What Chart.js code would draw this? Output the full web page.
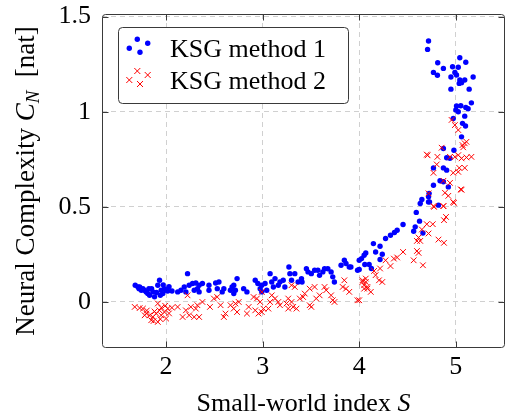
<!DOCTYPE html>
<html>
<head>
<meta charset="utf-8">
<script src="https://cdn.jsdelivr.net/npm/chart.js@4.4.0/dist/chart.umd.min.js"></script>
<style>
  html, body { margin: 0; padding: 0; background: #fff; }
  #wrap { width: 510px; height: 420px; }
</style>
</head>
<body>
<div id="wrap"><canvas id="complexityChart" width="510" height="420"></canvas></div>
<script>
// KSG method 1: small-world index S and neural complexity C_N
const method1S = [
  1.68, 1.709, 1.743, 1.726, 1.76, 1.794, 1.829, 1.822, 1.863, 1.88, 1.914, 1.932, 1.949, 1.966, 1.983,
  2.0, 2.017, 2.061, 2.12, 2.154, 2.188, 2.205, 2.222, 2.239, 2.274, 2.308, 2.291, 2.325, 2.342, 2.376,
  2.342, 2.444, 2.444, 2.513, 2.547, 2.53, 2.581, 2.598, 2.666, 2.683, 2.701, 2.718, 2.735, 2.701, 2.803,
  2.837, 2.923, 2.95, 2.974, 2.991, 2.991, 3.025, 3.042, 3.077, 3.094, 3.111, 3.128, 3.162, 3.179, 3.213,
  3.23, 3.272, 3.282, 3.299, 3.333, 3.367, 3.402, 3.408, 3.453, 3.47, 3.504, 3.538, 3.572, 3.589, 3.623,
  3.641, 3.675, 3.709, 3.726, 3.743, 3.812, 3.846, 3.863, 3.897, 3.914, 3.983,
  4.0, 4.024, 4.051, 4.068, 4.147, 4.17, 4.216, 4.239, 4.216, 4.273, 4.324, 4.365, 4.393, 4.454, 4.564,
  4.58, 4.591, 4.625, 4.632, 4.66, 4.058, 4.103, 4.126, 4.0,
  4.718, 4.708, 4.813, 4.872, 4.769, 4.81, 4.967, 5.026, 5.042, 5.104, 4.991, 5.008, 4.95, 5.042, 5.06,
  5.093, 5.036, 5.18, 4.95, 5.139, 5.008, 5.052, 5.104, 5.128, 5.162, 5.001, 5.026, 5.093, 4.974, 5.07,
  5.101, 4.981, 4.872, 4.906, 4.94, 4.769, 4.872, 4.906, 4.769, 4.923, 4.872, 4.724, 4.718, 4.649, 4.718,
  4.821, 5.06, 4.837, 4.728,
  1.72, 1.78, 1.85, 1.9, 1.97, 2.03, 1.81, 1.94
];
const method1C = [
  0.088, 0.079, 0.062, 0.079, 0.07, 0.053, 0.035, 0.07, 0.053, 0.027, 0.088, 0.114, 0.062, 0.044, 0.07,
  0.062, 0.058, 0.058, 0.053, 0.062, 0.079, 0.053, 0.149, 0.088, 0.097, 0.1, 0.062, 0.07, 0.088, 0.097,
  0.053, 0.088, 0.062, 0.1, 0.105, 0.07, 0.053, 0.07, 0.062, 0.079, 0.088, 0.062, 0.123, 0.044, 0.07,
  0.053, 0.114, 0.097, 0.07, 0.088, 0.053, 0.097, 0.062, 0.149, 0.105, 0.079, 0.123, 0.088, 0.105, 0.114,
  0.079, 0.184, 0.149, 0.114, 0.149, 0.105, 0.123, 0.105, 0.175, 0.158, 0.149, 0.167, 0.167, 0.14, 0.158,
  0.175, 0.175, 0.158, 0.132, 0.105, 0.193, 0.219, 0.202, 0.184, 0.184, 0.167,
  0.219, 0.228, 0.246, 0.258, 0.307, 0.263, 0.293, 0.251, 0.223, 0.334, 0.351, 0.365, 0.377, 0.407, 0.372,
  0.395, 0.471, 0.425, 0.518, 0.363, 0.197, 0.197, 0.176, 0.171,
  1.372, 1.328, 1.258, 1.228, 1.207, 1.192, 1.237, 1.234, 1.284, 1.26, 1.207, 1.193, 1.183, 1.167, 1.153,
  1.167, 1.149, 1.183, 1.119, 1.119, 1.03, 1.032, 1.023, 1.016, 1.047, 1.009, 1.0, 0.977, 0.965, 0.939,
  0.925, 0.798, 0.807, 0.758, 0.755, 0.705, 0.705, 0.693, 0.614, 0.605, 0.632, 0.571, 0.553, 0.539, 0.526,
  0.509, 0.868, 0.637, 0.526,
  0.07, 0.06, 0.07, 0.05, 0.09, 0.08, 0.045, 0.035
];

// KSG method 2
const method2S = [
  1.675, 1.726, 1.76, 1.795, 1.829, 1.863, 1.897, 1.914, 1.931, 1.949, 1.983, 2.0, 1.914, 1.846, 1.778,
  2.017, 2.119, 2.171, 2.205, 2.222, 2.256, 2.239, 2.308, 2.291, 2.342, 2.376, 2.324, 2.454, 2.495, 2.529,
  2.564, 2.598, 2.615, 2.667, 2.7, 2.718, 2.752, 2.735, 2.837, 2.855, 1.8, 1.88, 1.95, 1.99, 2.03, 1.87,
  1.94, 2.06,
  2.906, 2.94, 2.974, 2.991, 2.923, 2.957, 2.991, 3.008, 3.059, 3.077, 3.094, 3.128, 3.162, 3.179, 3.247,
  3.265, 3.265, 3.299, 3.316, 3.35, 3.299, 3.333, 3.385, 3.419, 3.436, 3.487, 3.487, 3.504, 3.538, 3.555,
  3.59, 3.641, 3.658, 3.709, 3.726, 3.744, 3.846, 3.829, 3.863, 3.897, 3.982, 4.034, 4.068, 4.051, 4.085,
  4.12,
  4.775, 4.872, 4.981, 4.899, 4.878, 4.7, 4.762, 4.649, 4.718, 4.615, 4.598, 4.632, 4.821, 4.878, 4.598,
  4.615, 4.564, 4.66, 4.454, 4.393, 4.359, 4.273, 4.324, 4.216, 4.154, 4.17, 4.205, 4.239, 4.034, 4.068,
  4.085, 4.051, 4.0,
  4.957, 4.991, 5.026, 5.077, 5.093, 5.111, 5.07, 4.854, 4.708, 4.81, 4.94, 4.991, 5.026, 5.06, 5.111,
  5.162, 4.803, 5.036, 5.093, 4.769, 4.974, 5.026, 4.872, 4.94, 5.052, 4.718, 4.888, 4.923, 4.974, 4.769,
  4.872, 4.7, 5.06
];
const method2C = [
  -0.026, -0.032, -0.035, -0.061, -0.07, -0.079, -0.061, -0.008, -0.044, -0.07, -0.053, -0.087, -0.105, -0.096, -0.07,
  -0.035, -0.026, -0.079, -0.044, 0.035, -0.026, -0.07, -0.035, -0.079, -0.079, 0.0, -0.017, -0.026, 0.018, 0.026,
  -0.017, -0.079, -0.061, -0.017, -0.035, -0.008, 0.0, -0.053, -0.061, -0.026, -0.045, -0.05, -0.03, -0.02, -0.06, -0.1,
  -0.09, -0.03,
  0.026, 0.018, 0.0, 0.053, -0.044, -0.061, -0.053, -0.035, -0.035, 0.0, 0.035, 0.018, 0.0, -0.017, -0.008,
  0.018, -0.035, 0.0, -0.026, -0.035, 0.088, 0.079, 0.018, 0.026, 0.044, 0.07, -0.017, -0.026, 0.079, 0.018,
  0.035, 0.079, 0.062, 0.035, 0.009, 0.0, 0.114, 0.079, 0.07, 0.053, 0.009, 0.114, 0.123, 0.088, 0.07,
  0.053,
  0.5, 0.504, 0.521, 0.447, 0.43, 0.409, 0.409, 0.381, 0.36, 0.339, 0.321, 0.321, 0.328, 0.311, 0.268,
  0.258, 0.219, 0.193, 0.263, 0.234, 0.228, 0.219, 0.189, 0.176, 0.163, 0.141, 0.114, 0.105, 0.105, 0.105,
  0.079, 0.07, 0.009,
  0.957, 0.93, 0.904, 0.813, 0.834, 0.842, 0.825, 0.811, 0.771, 0.763, 0.763, 0.763, 0.772, 0.755, 0.76,
  0.763, 0.723, 0.705, 0.705, 0.679, 0.679, 0.684, 0.637, 0.626, 0.592, 0.571, 0.574, 0.558, 0.526, 0.504,
  0.504, 0.775, 0.59
];

const seriesLabels = ['KSG method 1', 'KSG method 2'];
const xTicks = [2, 3, 4, 5];
const yTicks = [0, 0.5, 1, 1.5];

const serif = '"Liberation Serif", "Times New Roman", serif';
const frameColor = '#3a3a3a';

function toPoints(xs, ys) {
  return xs.map((x, i) => ({ x: x, y: ys[i] }));
}

// frame, inward tick marks, axis titles and the boxed legend
const decorations = {
  id: 'decorations',
  afterDraw(chart) {
    const ctx = chart.ctx;
    const a = chart.chartArea;
    const xs = chart.scales.x, ys = chart.scales.y;
    const L = a.left + 0.5, R = a.right - 0.5, T = a.top + 0.5, B = a.bottom - 0.5;

    ctx.save();
    ctx.strokeStyle = frameColor;
    ctx.lineWidth = 1;
    ctx.beginPath();
    ctx.roundRect(L, T, R - L, B - T, 3);
    ctx.stroke();

    // tick marks on all four sides
    ctx.beginPath();
    xTicks.forEach(v => {
      const px = Math.round(xs.getPixelForValue(v)) + 0.5;
      ctx.moveTo(px, B); ctx.lineTo(px, B - 6);
      ctx.moveTo(px, T); ctx.lineTo(px, T + 6);
    });
    yTicks.forEach(v => {
      const py = Math.round(ys.getPixelForValue(v)) + 0.5;
      ctx.moveTo(L, py); ctx.lineTo(L + 6, py);
      ctx.moveTo(R, py); ctx.lineTo(R - 6, py);
    });
    ctx.stroke();

    // x title
    ctx.fillStyle = '#000';
    ctx.textBaseline = 'alphabetic';
    const xt1 = 'Small-world index ';
    ctx.font = 'italic 26px ' + serif;
    const wS = ctx.measureText('S').width;
    ctx.font = '26px ' + serif;
    const w1 = ctx.measureText(xt1).width;
    const cx = (a.left + a.right) / 2;
    const sx = cx - (w1 + wS) / 2;
    ctx.fillText(xt1, sx, 411);
    ctx.font = 'italic 26px ' + serif;
    ctx.fillText('S', sx + w1, 411);

    // y title, rotated, with subscript
    const parts = [
      { t: 'Neural Complexity ', f: '27px ' + serif, dy: 0 },
      { t: 'C', f: 'italic 27px ' + serif, dy: 0 },
      { t: 'N', f: 'italic 19px ' + serif, dy: 5 },
      { t: '  [nat]', f: '27px ' + serif, dy: 0 }
    ];
    let total = 0;
    parts.forEach(p => { ctx.font = p.f; p.w = ctx.measureText(p.t).width; total += p.w; });
    ctx.translate(34, (a.top + a.bottom) / 2);
    ctx.rotate(-Math.PI / 2);
    let ox = -total / 2;
    parts.forEach(p => {
      ctx.font = p.f;
      ctx.fillText(p.t, ox, p.dy);
      ox += p.w;
    });
    ctx.restore();

    // legend box
    ctx.save();
    const bx = a.left + 16.5, by = a.top + 13.5, bw = 230, bh = 76;
    ctx.fillStyle = '#fff';
    ctx.strokeStyle = frameColor;
    ctx.lineWidth = 1;
    ctx.beginPath();
    ctx.roundRect(bx, by, bw, bh, 4);
    ctx.fill();
    ctx.stroke();

    const pattern = [[0, 9], [8, 0], [10.7, 13], [18.4, 4]];
    const mx = a.left + 27.3;
    // row 1: dots
    ctx.fillStyle = '#0000ff';
    pattern.forEach(([dx, dy]) => {
      ctx.beginPath();
      ctx.arc(mx + dx, a.top + 25.3 + dy, 2.7, 0, Math.PI * 2);
      ctx.fill();
    });
    // row 2: crosses
    ctx.strokeStyle = '#ff0000';
    ctx.lineWidth = 1;
    pattern.forEach(([dx, dy]) => {
      const px = mx + dx, py = a.top + 57 + dy, r = 3;
      ctx.beginPath();
      ctx.moveTo(px - r, py - r); ctx.lineTo(px + r, py + r);
      ctx.moveTo(px - r, py + r); ctx.lineTo(px + r, py - r);
      ctx.stroke();
    });

    ctx.fillStyle = '#000';
    ctx.font = '26px ' + serif;
    ctx.textBaseline = 'alphabetic';
    ctx.fillText(seriesLabels[0], a.left + 68, a.top + 42.5);
    ctx.fillText(seriesLabels[1], a.left + 68, a.top + 74.5);
    ctx.restore();
  }
};

const ctx = document.getElementById('complexityChart').getContext('2d');
const complexityChart = new Chart(ctx, {
  type: 'scatter',
  data: {
    datasets: [{
      label: seriesLabels[0],
      data: toPoints(method1S, method1C),
      pointStyle: 'circle',
      pointRadius: 2.7,
      backgroundColor: '#0000ff',
      borderColor: '#0000ff',
      borderWidth: 0,
      order: 2
    }, {
      label: seriesLabels[1],
      data: toPoints(method2S, method2C),
      pointStyle: 'crossRot',
      pointRadius: 4,
      borderColor: '#ff0000',
      backgroundColor: '#ff0000',
      borderWidth: 1,
      order: 1
    }]
  },
  options: {
    responsive: false,
    animation: false,
    layout: { padding: { left: 0, right: 1, top: 14, bottom: 0 } },
    plugins: {
      legend: { display: false },
      tooltip: { enabled: false }
    },
    scales: {
      x: {
        type: 'linear',
        min: 1.336,
        max: 5.51,
        afterBuildTicks: s => { s.ticks = xTicks.map(v => ({ value: v })); },
        afterFit: s => { s.height = 72; s.paddingLeft = 0; s.paddingRight = 0; },
        grid: { color: '#d0d0d0', lineWidth: 1, drawTicks: false },
        border: { display: false, dash: [5, 4] },
        ticks: {
          font: { family: serif, size: 26 },
          color: '#000',
          padding: 4,
          maxRotation: 0,
          callback: v => String(v)
        }
      },
      y: {
        type: 'linear',
        min: -0.242,
        max: 1.514,
        afterBuildTicks: s => { s.ticks = yTicks.map(v => ({ value: v })); },
        afterFit: s => { s.width = 102; s.paddingTop = 0; s.paddingBottom = 0; },
        grid: { color: '#d0d0d0', lineWidth: 1, drawTicks: false },
        border: { display: false, dash: [5, 4] },
        ticks: {
          font: { family: serif, size: 26 },
          color: '#000',
          padding: 11,
          callback: v => String(v)
        }
      }
    }
  },
  plugins: [decorations]
});
</script>
</body>
</html>
